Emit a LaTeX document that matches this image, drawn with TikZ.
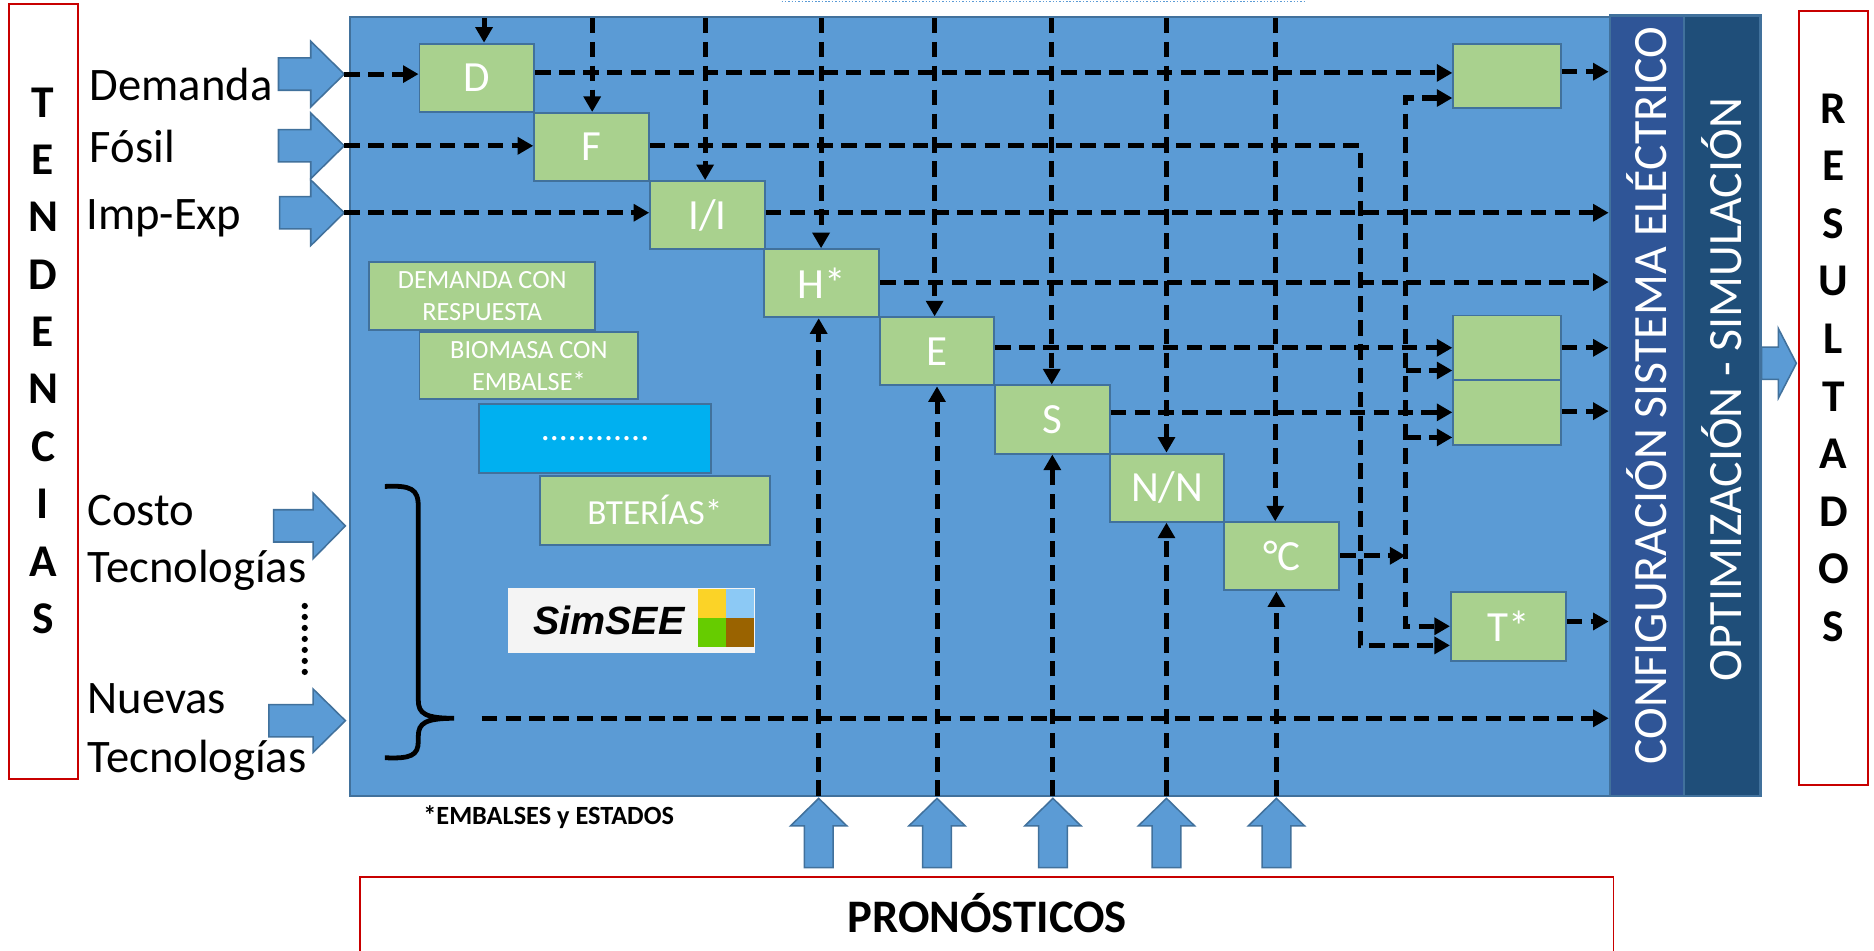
\documentclass[tikz,border=0pt]{standalone}
\usepackage{fontspec}
\setmainfont{Carlito}
\newfontfamily\arialfont{Liberation Sans}
\usetikzlibrary{arrows.meta,calc}
\definecolor{mainblue}{HTML}{5B9BD5}
\definecolor{edgeblue}{HTML}{41719C}
\definecolor{boxgreen}{HTML}{A9D18E}
\definecolor{cfgblue}{HTML}{2F5597}
\definecolor{optblue}{HTML}{1F4E79}
\definecolor{cyanbox}{HTML}{00B0F0}
\definecolor{redline}{HTML}{C80000}
\definecolor{logobg}{HTML}{F4F4F4}
\definecolor{lyellow}{HTML}{FBD327}
\definecolor{lblue}{HTML}{8CC9F5}
\definecolor{lgreen}{HTML}{66CC00}
\definecolor{lbrown}{HTML}{9A6300}
\tikzset{
  gbox/.style={draw=edgeblue, line width=1.6pt, fill=boxgreen, text=white, inner sep=0pt,
    minimum width=96pt, minimum height=57pt, font=\fontsize{36}{40}\selectfont},
  sidebox/.style={draw=edgeblue, line width=1.6pt, fill=boxgreen, text=white, inner sep=0pt,
    align=center},
  dl/.style={draw=black, line width=4.2pt, dash pattern=on 13pt off 7pt},
  dconn/.style={dl, -{Triangle[length=13pt,width=14pt]}},
  dboth/.style={dl, {Triangle[length=13pt,width=14pt]}-{Triangle[length=13pt,width=14pt]}},
  redbox/.style={draw=redline, line width=1.6pt, fill=white, inner sep=0pt},
  lbl/.style={anchor=base west, inner sep=0pt, font=\fontsize{39}{46}\selectfont},
  vlet/.style={anchor=base, inner sep=0pt, font=\bfseries\fontsize{38}{44}\selectfont},
  coltext/.style={rotate=90, anchor=base, inner sep=0pt, text=white, font=\fontsize{40}{46}\selectfont},
  blk/.style={fill=mainblue, draw=edgeblue, line width=1.3pt},
}
\newcommand{\rblock}[6]{%
  \path[blk] (#1,#4-#5) -- (#2,#4-#5) -- (#2,#4-#6) -- (#3,#4) -- (#2,#4+#6) -- (#2,#4+#5) -- (#1,#4+#5) -- cycle;}
\newcommand{\ublock}[6]{%
  \path[blk] (#1-#5,#4) -- (#1-#5,#3) -- (#1-#6,#3) -- (#1,#2) -- (#1+#6,#3) -- (#1+#5,#3) -- (#1+#5,#4) -- cycle;}
\begin{document}
\begin{tikzpicture}[x=1pt,y=-1pt]
\useasboundingbox[fill=white] (0,0) rectangle (1568,795.7);

% frames
\node[redbox, minimum width=58pt, minimum height=649pt] (tendbox) at (36.5,327.5) {};
\node[redbox, minimum width=58pt, minimum height=648pt] (resbox) at (1534,333) {};
\node[redbox, minimum width=1049pt, minimum height=90pt] (pronbox) at (825.5,779) {};

% main panel and columns
\node[draw=edgeblue, fill=mainblue, line width=2pt, inner sep=0pt, minimum width=1054pt, minimum height=652pt] (main) at (820,340) {};
\node[draw=edgeblue, fill=cfgblue, line width=2pt, inner sep=0pt, minimum width=62pt, minimum height=653pt] (cfg) at (1378,339.5) {};
\node[draw=edgeblue, fill=optblue, line width=2pt, inner sep=0pt, minimum width=64pt, minimum height=653pt] (opt) at (1441,339.5) {};
\node[coltext] (cfgtxt) at (1394,331) {CONFIGURACIÓN SISTEMA ELÉCTRICO};
\node[coltext] (opttxt) at (1457,326) {OPTIMIZACIÓN - SIMULACIÓN};

% top dotted line
\draw[mainblue, line width=1.5pt, dash pattern=on 1.2pt off 1.6pt] (654,1.2) -- (1091,1.2);

% letters
\foreach \l [count=\i from 0] in {T,E,N,D,E,N,C,I,A,S}
  \node[vlet] (tend\i) at (36,98+48*\i) {\l};
\foreach \l [count=\i from 0] in {R,E,S,U,L,T,A,D,O,S}
  \node[vlet] (res\i) at (1534,103+48.2*\i) {\l};

% left labels
\node[lbl] (lDem) at (75,84) {Demanda};
\node[lbl] (lFos) at (75,136) {Fósil};
\node[lbl] (lImp) at (72,192) {Imp-Exp};
\node[lbl] (lCos1) at (73,440) {Costo};
\node[lbl] (lCos2) at (73,487) {Tecnologías};
\node[lbl] (lNue1) at (73,597) {Nuevas};
\node[lbl] (lNue2) at (73,646) {Tecnologías};
\foreach \k in {0,...,6}
  \fill (255,507+9.2*\k) circle (2.6pt);

% block arrows
\rblock{233}{260}{288}{62}{13.5}{27.5}
\rblock{233}{260}{288}{122}{13.5}{27.5}
\rblock{234}{260}{288}{178}{13.5}{27.5}
\rblock{229}{262}{289}{440}{13.5}{27.5}
\rblock{225}{262}{289}{603}{13.5}{26.5}
\rblock{1474}{1488}{1503}{304}{13.5}{29}
\foreach \cx in {685,784,881,976,1068}
  \ublock{\cx}{668}{691}{726}{12}{23.5}
\coordinate (aDem) at (288,62);
\coordinate (aFos) at (288,122);
\coordinate (aImp) at (288,178);

% diagonal chain of boxes
\node[gbox] (D)  at (399,65)   {D};
\node[gbox] (F)  at (495,123)  {F};
\node[gbox] (II) at (592,180)  {I/I};
\node[gbox] (H)  at (687.5,237){H*};
\node[gbox] (E)  at (784,294)  {E};
\node[gbox] (S)  at (880.5,351){S};
\node[gbox] (NN) at (976.5,408){N/N};
\node[gbox] (C)  at (1072.5,465.5){°C};

% right boxes
\node[gbox, minimum width=90pt, minimum height=53pt] (R1) at (1261,63.5) {};
\node[gbox, minimum width=90pt, minimum height=54pt] (M1) at (1261,291) {};
\node[gbox, minimum width=90pt, minimum height=54pt] (M2) at (1261,345) {};
\node[gbox, minimum width=96pt, minimum height=58pt] (T)  at (1262,524) {T*};

% side boxes
\node[sidebox, minimum width=189pt, minimum height=57pt, font=\fontsize{22}{27}\selectfont] (DR) at (403.5,247.5) {DEMANDA CON\\RESPUESTA};
\node[sidebox, minimum width=183pt, minimum height=56pt, font=\fontsize{22}{27}\selectfont] (BIO) at (442.5,306) {BIOMASA CON\\EMBALSE*};
\node[sidebox, fill=cyanbox, minimum width=194pt, minimum height=58pt, font=\fontsize{30}{32}\selectfont] (DOT) at (498,367) {............};
\node[sidebox, minimum width=192pt, minimum height=58pt, font=\fontsize{29.5}{32}\selectfont] (BAT) at (548,427) {BTERÍAS*};

% logo
\node[fill=logobg, inner sep=0pt, minimum width=207pt, minimum height=54pt] (logo) at (528.5,519) {};
\node[anchor=base west, inner sep=0pt, font=\arialfont\bfseries\itshape\fontsize{33}{38}\selectfont] (logotxt) at (446,530.5) {SimSEE};
\fill[lyellow] (584,493) rectangle (607.5,517);
\fill[lblue] (607.5,493) rectangle (631,517);
\fill[lgreen] (584,517) rectangle (607.5,541);
\fill[lbrown] (607.5,517) rectangle (631,541);

% brace
\draw[line width=4pt] (322,407) .. controls (344,406) and (350,409) .. (350,424) -- (350,586)
  .. controls (350,597) and (356,601) .. (380,601)
  .. controls (356,601) and (350,605) .. (350,616) -- (350,620)
  .. controls (350,632) and (344,635) .. (322,634);
\coordinate (brace) at (403,601);

% footnote and forecasts
\node[anchor=base west, inner sep=0pt, font=\bfseries\fontsize{22}{25}\selectfont] (foot) at (354,690) {*EMBALSES y ESTADOS};
\node[anchor=base, inner sep=0pt, font=\bfseries\fontsize{39}{44}\selectfont] (pron) at (826,780) {PRONÓSTICOS};

% inputs from left
\draw[dconn] (aDem) -- (aDem -| D.west);
\draw[dconn] (aFos) -- (aFos -| F.west);
\draw[dconn] (aImp) -- (aImp -| II.west);

% verticals from top
\foreach \x/\b in {405/D,495.5/F,590/II,687/H,782/E,880/S,976/NN,1067/C}
  \draw[dconn] (\x,15) -- (\x,0 |- \b.north);

% verticals from bottom
\foreach \x/\b in {685/H,784/E,880.5/S,976/NN,1068/C}
  \draw[dconn] (\x,666) -- (\x,0 |- \b.south);

% row outputs
\coordinate (yD) at (0,61);
\coordinate (yI) at (0,178);
\coordinate (yH) at (0,236);
\coordinate (yE) at (0,291);
\coordinate (yS) at (0,345);
\coordinate (yC) at (0,465);
\coordinate (fc1) at (1138,122);
\coordinate (fc2) at (1138,540);
\coordinate (bus1) at (1176,82);
\coordinate (bus2) at (1176,310);
\coordinate (bus3) at (1176,366);
\coordinate (bus4) at (1176,524);

\draw[dconn] (D.east |- yD) -- (R1.west |- yD);
\draw[dconn] (F.east |- fc1) -- (fc1) -- (fc2) -- (T.west |- fc2);
\draw[dconn] (II.east |- yI) -- (cfg.west |- yI);
\draw[dconn] (H.east |- yH) -- (cfg.west |- yH);
\draw[dconn] (E.east |- yE) -- (M1.west |- yE);
\draw[dconn] (S.east |- yS) -- (M2.west |- yS);
\draw[dconn] (C.east |- yC) -- (bus1 |- yC);
\draw[dboth] (R1.west |- bus1) -- (bus1) -- (bus4) -- (T.west |- bus4);
\draw[dconn] (bus2) -- (M1.west |- bus2);
\draw[dconn] (bus3) -- (M2.west |- bus3);

% outputs to configuration column
\draw[dconn] (R1.east |- 0,60) -- (cfg.west |- 0,60);
\draw[dconn] (M1.east |- 0,291) -- (cfg.west |- 0,291);
\draw[dconn] (M2.east |- 0,344) -- (cfg.west |- 0,344);
\draw[dconn] (T.east |- 0,520) -- (cfg.west |- 0,520);
\draw[dconn] (brace) -- (cfg.west |- brace);
\end{tikzpicture}
\end{document}
